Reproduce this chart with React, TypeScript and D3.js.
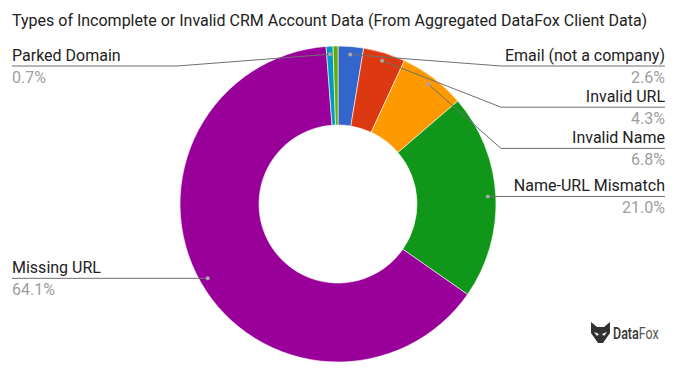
import * as d3 from 'd3';
import React from 'react';

// slice data, clockwise from 12 o'clock
const categories = [
  'Email (not a company)',
  'Invalid URL',
  'Invalid Name',
  'Name-URL Mismatch',
  'Missing URL',
  'Parked Domain',
  'Other',
];
const values = [2.6, 4.3, 6.8, 21.0, 64.1, 0.7, 0.5];
const colors = ['#3366cc', '#dc3912', '#ff9900', '#109618', '#990099', '#0099c6', '#66aa00'];
const pctLabels = ['2.6%', '4.3%', '6.8%', '21.0%', '64.1%', '0.7%', ''];

const title = 'Types of Incomplete or Invalid CRM Account Data (From Aggregated DataFox Client Data)';

const width = 677;
const height = 374;

interface Slice {
  name: string;
  value: number;
  color: string;
  pct: string;
}

const slices: Slice[] = categories.map((name, i) => ({
  name,
  value: values[i],
  color: colors[i],
  pct: pctLabels[i],
}));

const FONT = 'Roboto, "Noto Sans", Arial, sans-serif';

export default function App() {
  const cx = 338;
  const cy = 204;
  const outerR = 158;
  const innerR = 79;

  const pie = d3.pie<Slice>().sort(null).value(d => d.value);
  const arcs = pie(slices);
  const arc = d3.arc<d3.PieArcDatum<Slice>>().innerRadius(innerR).outerRadius(outerR);
  const dotArc = d3.arc<d3.PieArcDatum<Slice>>().innerRadius(150).outerRadius(150);

  // label layout (right/left columns, pushed down to avoid overlaps)
  const labelTop = cy - outerR + 20;
  const gap = 41.2;
  const items = arcs
    .filter(a => a.data.pct !== '')
    .map(a => {
      const [dx, dy] = dotArc.centroid(a);
      const mid = (a.startAngle + a.endAngle) / 2;
      return { a, x: cx + dx, y: cy + dy, right: mid < Math.PI, lineY: 0 };
    });
  [true, false].forEach(side => {
    let prev = -Infinity;
    items
      .filter(it => it.right === side)
      .sort((p, q) => p.y - q.y)
      .forEach(it => {
        it.lineY = Math.max(it.y, labelTop, prev + gap);
        prev = it.lineY;
      });
  });

  const rightEdge = 665;
  const leftEdge = 12;
  const rightBend = 501;
  const leftBend = 177;

  return (
    <div style={{ position: 'absolute', left: 0, top: 0 }}>
      <svg width={width} height={height} style={{ display: 'block', fontFamily: FONT }}>
        <rect width={width} height={height} fill="#fff" />
        <text x={12} y={26} fontSize={16} fill="#222">
          {title}
        </text>

        <g transform={`translate(${cx},${cy})`}>
          {arcs.map((a, i) => (
            <path key={i} d={arc(a) || ''} fill={a.data.color} stroke="#fff" strokeWidth={0.6} />
          ))}
        </g>

        {items.map((it, i) => {
          const pts = it.right
            ? [[it.x, it.y], [Math.max(rightBend, it.x), it.lineY], [rightEdge, it.lineY]]
            : [[it.x, it.y], [leftBend, it.lineY], [leftEdge, it.lineY]];
          const line = d3.line()(pts as [number, number][]) || '';
          const tx = it.right ? rightEdge : leftEdge;
          const anchor = it.right ? 'end' : 'start';
          return (
            <g key={i}>
              <path d={line} fill="none" stroke="#707070" strokeWidth={1} />
              <circle cx={it.x} cy={it.y} r={2} fill="#a8a8a8" />
              <text x={tx} y={it.lineY - 5} textAnchor={anchor} fontSize={16} fill="#222">
                {it.a.data.name}
              </text>
              <text x={tx} y={it.lineY + 16.5} textAnchor={anchor} fontSize={16} fill="#9e9e9e">
                {it.a.data.pct}
              </text>
            </g>
          );
        })}

        {/* DataFox logo */}
        <g transform="translate(591,322)">
          <path
            d="M0,0 L6,5 L13,5 L19,0 L19,11 L12,21 L7,21 L0,11 Z"
            fill="#333"
          />
          <path d="M3,10 L8,12 L6,14 Z" fill="#fff" />
          <path d="M16,10 L11,12 L13,14 Z" fill="#fff" />
        </g>
        <g transform="translate(613,339) scale(0.78,1)">
          <text x={0} y={0} fontSize={16} fill="#333">
            <tspan fontWeight={500}>Data</tspan>
            <tspan fill="#555">Fox</tspan>
          </text>
        </g>
      </svg>
    </div>
  );
}
